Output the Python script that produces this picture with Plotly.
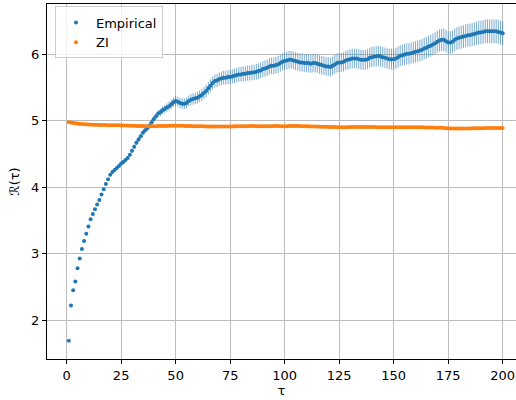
import plotly.graph_objects as go

tau = list(range(1, 201))

empirical = [
    1.69, 2.22, 2.45, 2.58, 2.78, 2.93, 3.07, 3.19, 3.30, 3.41,
    3.52, 3.60, 3.67, 3.74, 3.81, 3.89, 3.97, 4.05, 4.12, 4.19,
    4.23, 4.26, 4.29, 4.32, 4.36, 4.38, 4.41, 4.44, 4.49, 4.55,
    4.61, 4.67, 4.72, 4.77, 4.82, 4.86, 4.89, 4.93, 4.98, 5.03,
    5.07, 5.11, 5.13, 5.16, 5.18, 5.20, 5.22, 5.25, 5.28, 5.30,
    5.29, 5.27, 5.26, 5.26, 5.27, 5.30, 5.32, 5.33, 5.34, 5.35,
    5.37, 5.39, 5.42, 5.45, 5.49, 5.53, 5.57, 5.60, 5.61, 5.63,
    5.64, 5.65, 5.65, 5.66, 5.66, 5.67, 5.68, 5.69, 5.70, 5.70,
    5.71, 5.71, 5.72, 5.72, 5.73, 5.73, 5.74, 5.75, 5.76, 5.78,
    5.79, 5.80, 5.82, 5.83, 5.83, 5.84, 5.85, 5.87, 5.89, 5.90,
    5.91, 5.92, 5.92, 5.91, 5.90, 5.89, 5.88, 5.88, 5.87, 5.87,
    5.87, 5.86, 5.87, 5.87, 5.86, 5.85, 5.84, 5.83, 5.82, 5.82,
    5.81, 5.83, 5.85, 5.87, 5.88, 5.88, 5.89, 5.91, 5.92, 5.93,
    5.94, 5.94, 5.94, 5.93, 5.92, 5.92, 5.92, 5.93, 5.95, 5.96,
    5.97, 5.97, 5.98, 5.97, 5.96, 5.95, 5.94, 5.93, 5.93, 5.93,
    5.94, 5.96, 5.98, 5.99, 6.00, 6.01, 6.01, 6.02, 6.03, 6.04,
    6.05, 6.06, 6.07, 6.09, 6.10, 6.12, 6.13, 6.15, 6.17, 6.19,
    6.21, 6.22, 6.22, 6.20, 6.18, 6.18, 6.19, 6.22, 6.24, 6.25,
    6.26, 6.27, 6.28, 6.29, 6.29, 6.30, 6.31, 6.32, 6.33, 6.33,
    6.34, 6.35, 6.35, 6.35, 6.35, 6.35, 6.35, 6.34, 6.33, 6.32,
]

empirical_err = [
    0.005, 0.006, 0.007, 0.008, 0.009, 0.010, 0.011, 0.012, 0.012, 0.013,
    0.014, 0.015, 0.016, 0.016, 0.017, 0.018, 0.019, 0.020, 0.021, 0.022,
    0.023, 0.024, 0.025, 0.026, 0.027, 0.028, 0.029, 0.030, 0.032, 0.033,
    0.035, 0.036, 0.038, 0.040, 0.041, 0.043, 0.045, 0.047, 0.049, 0.051,
    0.053, 0.055, 0.058, 0.060, 0.062, 0.064, 0.066, 0.069, 0.071, 0.073,
    0.075, 0.077, 0.079, 0.080, 0.082, 0.083, 0.085, 0.086, 0.088, 0.089,
    0.090, 0.092, 0.093, 0.094, 0.096, 0.097, 0.098, 0.099, 0.100, 0.101,
    0.102, 0.103, 0.104, 0.105, 0.106, 0.107, 0.108, 0.109, 0.110, 0.111,
    0.112, 0.113, 0.114, 0.115, 0.116, 0.117, 0.118, 0.119, 0.120, 0.121,
    0.122, 0.123, 0.124, 0.125, 0.126, 0.127, 0.128, 0.129, 0.130, 0.131,
    0.132, 0.132, 0.133, 0.133, 0.134, 0.134, 0.135, 0.135, 0.136, 0.136,
    0.137, 0.137, 0.138, 0.138, 0.139, 0.139, 0.140, 0.140, 0.141, 0.141,
    0.142, 0.142, 0.143, 0.143, 0.144, 0.144, 0.145, 0.145, 0.146, 0.146,
    0.147, 0.147, 0.148, 0.148, 0.149, 0.149, 0.150, 0.150, 0.151, 0.151,
    0.152, 0.152, 0.153, 0.153, 0.154, 0.154, 0.155, 0.155, 0.156, 0.156,
    0.157, 0.157, 0.158, 0.158, 0.159, 0.159, 0.160, 0.160, 0.161, 0.161,
    0.162, 0.162, 0.163, 0.163, 0.164, 0.164, 0.165, 0.165, 0.166, 0.166,
    0.167, 0.167, 0.168, 0.168, 0.169, 0.169, 0.170, 0.170, 0.171, 0.171,
    0.172, 0.172, 0.173, 0.173, 0.174, 0.174, 0.175, 0.175, 0.176, 0.176,
    0.177, 0.177, 0.178, 0.178, 0.179, 0.179, 0.180, 0.180, 0.181, 0.181,
]

zi = [
    4.980, 4.975, 4.970, 4.965, 4.960, 4.955, 4.952, 4.950, 4.948, 4.946,
    4.944, 4.943, 4.942, 4.941, 4.940, 4.939, 4.938, 4.937, 4.936, 4.935,
    4.934, 4.934, 4.933, 4.933, 4.932, 4.931, 4.930, 4.929, 4.928, 4.927,
    4.926, 4.925, 4.924, 4.923, 4.922, 4.921, 4.920, 4.920, 4.920, 4.921,
    4.921, 4.922, 4.922, 4.923, 4.924, 4.925, 4.926, 4.927, 4.927, 4.928,
    4.928, 4.927, 4.926, 4.925, 4.924, 4.923, 4.922, 4.921, 4.921, 4.920,
    4.920, 4.919, 4.918, 4.917, 4.917, 4.916, 4.916, 4.915, 4.915, 4.915,
    4.915, 4.915, 4.916, 4.916, 4.917, 4.917, 4.918, 4.918, 4.919, 4.920,
    4.920, 4.921, 4.921, 4.922, 4.922, 4.922, 4.921, 4.921, 4.920, 4.920,
    4.920, 4.920, 4.921, 4.921, 4.922, 4.922, 4.922, 4.921, 4.921, 4.921,
    4.921, 4.922, 4.922, 4.923, 4.923, 4.922, 4.922, 4.921, 4.920, 4.919,
    4.918, 4.917, 4.916, 4.915, 4.914, 4.913, 4.912, 4.911, 4.910, 4.909,
    4.908, 4.907, 4.907, 4.906, 4.906, 4.906, 4.906, 4.906, 4.906, 4.907,
    4.907, 4.907, 4.907, 4.908, 4.908, 4.908, 4.908, 4.908, 4.907, 4.907,
    4.907, 4.906, 4.906, 4.906, 4.906, 4.906, 4.906, 4.906, 4.905, 4.905,
    4.905, 4.905, 4.905, 4.905, 4.904, 4.904, 4.904, 4.904, 4.904, 4.904,
    4.903, 4.903, 4.903, 4.902, 4.902, 4.901, 4.900, 4.899, 4.898, 4.897,
    4.896, 4.895, 4.893, 4.891, 4.889, 4.887, 4.886, 4.885, 4.884, 4.884,
    4.884, 4.884, 4.885, 4.886, 4.887, 4.888, 4.889, 4.890, 4.890, 4.891,
    4.891, 4.892, 4.892, 4.892, 4.893, 4.893, 4.893, 4.893, 4.894, 4.894,
]

zi_err = [
    0.010, 0.011, 0.011, 0.012, 0.012, 0.012, 0.012, 0.012, 0.012, 0.012,
    0.012, 0.012, 0.012, 0.012, 0.012, 0.012, 0.012, 0.012, 0.012, 0.012,
    0.012, 0.012, 0.012, 0.012, 0.012, 0.012, 0.012, 0.012, 0.012, 0.012,
    0.012, 0.012, 0.012, 0.012, 0.012, 0.012, 0.012, 0.012, 0.012, 0.012,
    0.012, 0.012, 0.012, 0.012, 0.012, 0.012, 0.012, 0.012, 0.012, 0.012,
    0.012, 0.012, 0.012, 0.012, 0.012, 0.012, 0.012, 0.012, 0.012, 0.012,
    0.012, 0.012, 0.012, 0.012, 0.012, 0.012, 0.012, 0.012, 0.012, 0.012,
    0.012, 0.012, 0.012, 0.012, 0.012, 0.012, 0.012, 0.012, 0.012, 0.012,
    0.012, 0.012, 0.012, 0.012, 0.012, 0.012, 0.012, 0.012, 0.012, 0.012,
    0.012, 0.012, 0.012, 0.012, 0.012, 0.012, 0.012, 0.012, 0.012, 0.012,
    0.012, 0.012, 0.012, 0.012, 0.012, 0.012, 0.012, 0.012, 0.012, 0.012,
    0.012, 0.012, 0.012, 0.012, 0.012, 0.012, 0.012, 0.012, 0.012, 0.012,
    0.012, 0.012, 0.012, 0.012, 0.012, 0.012, 0.012, 0.012, 0.012, 0.012,
    0.012, 0.012, 0.012, 0.012, 0.012, 0.012, 0.012, 0.012, 0.012, 0.012,
    0.012, 0.012, 0.012, 0.012, 0.012, 0.012, 0.012, 0.012, 0.012, 0.012,
    0.012, 0.012, 0.012, 0.012, 0.012, 0.012, 0.012, 0.012, 0.012, 0.012,
    0.012, 0.012, 0.012, 0.012, 0.012, 0.012, 0.012, 0.012, 0.012, 0.012,
    0.012, 0.012, 0.012, 0.012, 0.012, 0.012, 0.012, 0.012, 0.012, 0.012,
    0.012, 0.012, 0.012, 0.012, 0.012, 0.012, 0.012, 0.012, 0.012, 0.012,
    0.012, 0.012, 0.012, 0.012, 0.012, 0.012, 0.012, 0.012, 0.012, 0.012,
]

x_ticks = [0, 25, 50, 75, 100, 125, 150, 175, 200]
y_ticks = [2, 3, 4, 5, 6]

BLUE = "#1f77b4"
ORANGE = "#ff7f0e"
FONT = "DejaVu Sans"

fig = go.Figure()
fig.add_trace(go.Scatter(
    x=tau, y=empirical, mode="markers", name="Empirical",
    marker=dict(color=BLUE, size=4, line=dict(width=0)),
    error_y=dict(type="data", array=empirical_err, color="rgba(31,119,180,0.6)",
                 thickness=1, width=0),
))
fig.add_trace(go.Scatter(
    x=tau, y=zi, mode="markers", name="ZI",
    marker=dict(color=ORANGE, size=4, line=dict(width=0)),
    error_y=dict(type="data", array=zi_err, color="rgba(255,127,14,0.6)",
                 thickness=1, width=0),
))

axis_common = dict(
    showgrid=True, gridcolor="#bdbdbd", gridwidth=1,
    zeroline=False, ticks="outside", ticklen=4, tickcolor="black", tickwidth=1,
    tickfont=dict(family=FONT, size=13, color="black"),
    linecolor="black", linewidth=1, showline=True,
)

fig.update_layout(
    width=516, height=400,
    margin=dict(l=47, r=0, t=4, b=41),
    paper_bgcolor="white", plot_bgcolor="white",
    font=dict(family=FONT, size=13, color="black"),
    showlegend=True,
    legend=dict(
        x=0.017, y=0.993, xanchor="left", yanchor="top",
        bgcolor="rgba(255,255,255,0.8)", bordercolor="#cccccc", borderwidth=1,
        font=dict(family=FONT, size=13), itemwidth=30,
    ),
    xaxis=dict(
        range=[-9.0, 206.1], tickvals=x_ticks, mirror=True,
        title=dict(text="τ", font=dict(family=FONT, size=13), standoff=4),
        **axis_common,
    ),
    yaxis=dict(
        range=[1.415, 6.76], tickvals=y_ticks, mirror=False,
        title=dict(text="ℛ(τ)", font=dict(family=FONT, size=13), standoff=8),
        **axis_common,
    ),
)

fig.write_html("out.html")
